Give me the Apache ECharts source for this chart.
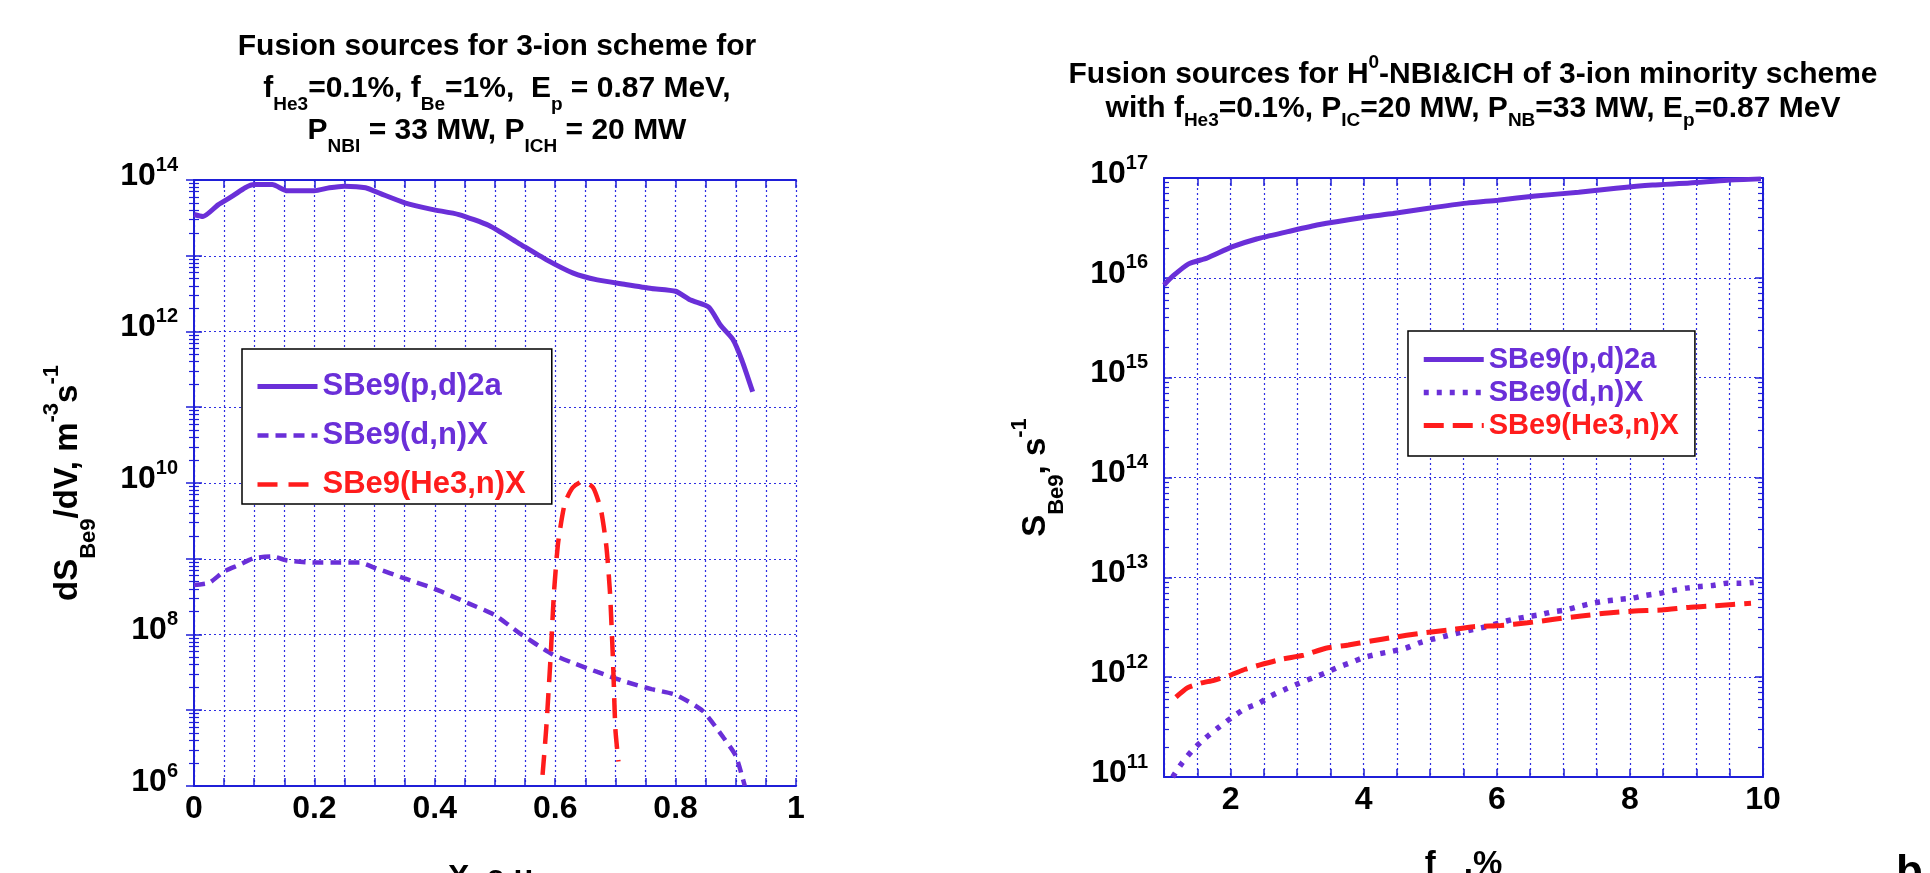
<!DOCTYPE html>
<html>
<head>
<meta charset="utf-8">
<title>Fusion sources</title>
<script src="https://cdn.jsdelivr.net/npm/echarts@6/dist/echarts.min.js"></script>
<style>
html, body { margin: 0; padding: 0; background: #fff; }
#main { width: 1930px; height: 873px; }
</style>
</head>
<body>
<div id="main"></div>
<script>
//////////////////////////// left panel: dS/dV vs X, a.u.
var xPd = [0, 0.015, 0.04, 0.065, 0.085, 0.1, 0.13, 0.155, 0.2, 0.225, 0.25, 0.285, 0.31, 0.35, 0.395,
	0.44, 0.49, 0.54, 0.585, 0.63, 0.67, 0.715, 0.76, 0.8, 0.825, 0.855, 0.875, 0.895, 0.91, 0.928];
var yPd = [3.5e13, 3.3e13, 4.7e13, 6.2e13, 7.9e13, 8.7e13, 8.7e13, 7.2e13, 7.2e13, 7.9e13, 8.3e13, 7.9e13,
	6.6e13, 5.0e13, 4.1e13, 3.5e13, 2.5e13, 1.45e13, 8.9e12, 5.9e12, 4.8e12, 4.2e12, 3.7e12, 3.4e12,
	2.6e12, 2.1e12, 1.2e12, 7.9e11, 4.2e11, 1.6e11];

var xDn = [0, 0.025, 0.05, 0.075, 0.1, 0.13, 0.155, 0.2, 0.24, 0.275, 0.3, 0.35, 0.4, 0.455, 0.5,
	0.54, 0.595, 0.63, 0.67, 0.715, 0.76, 0.8, 0.845, 0.88, 0.9, 0.915];
var yDn = [4.5e8, 4.8e8, 6.8e8, 8.3e8, 1.02e9, 1.07e9, 9.5e8, 8.9e8, 8.9e8, 8.9e8, 7.6e8, 5.5e8, 4.0e8,
	2.6e8, 1.8e8, 1.05e8, 5.5e7, 4.2e7, 3.2e7, 2.4e7, 1.9e7, 1.6e7, 9.8e6, 4.3e6, 2.5e6, 1.0e6];

var xHe = [0.579, 0.585, 0.592, 0.598, 0.605, 0.616, 0.629, 0.646, 0.663, 0.676, 0.685, 0.691, 0.696, 0.70, 0.705];
var yHe = [1.4e6, 5.6e6, 4.5e7, 3.6e8, 1.66e9, 5.4e9, 8.7e9, 1.05e10, 8.7e9, 4.4e9, 1.45e9, 3.6e8, 4.5e7, 5.6e6, 2.1e6];

//////////////////////////// right panel: S vs f_Be, %
var fPd = [1.0, 1.14, 1.37, 1.65, 2.02, 2.39, 2.86, 3.32, 3.97, 4.44, 5.0, 5.55, 6.02, 6.58, 7.23, 7.79, 8.34, 8.9, 9.46, 9.97];
var sPd = [8.5e15, 1.05e16, 1.38e16, 1.58e16, 2.04e16, 2.45e16, 2.9e16, 3.4e16, 4.0e16, 4.4e16, 5.0e16,
	5.6e16, 6.0e16, 6.6e16, 7.2e16, 7.9e16, 8.5e16, 8.9e16, 9.5e16, 9.8e16];

var fDn = [1.13, 1.27, 1.43, 1.62, 1.81, 2.01, 2.21, 2.43, 2.61, 2.83, 3.03, 3.23, 3.42, 3.62, 3.82, 4.01,
	4.21, 4.43, 4.63, 4.83, 5.03, 5.22, 5.44, 5.64, 5.84, 6.04, 6.25, 6.43, 6.63, 6.83, 7.03, 7.23, 7.44,
	7.64, 7.84, 8.04, 8.24, 8.44, 8.65, 8.85, 9.05, 9.25, 9.45, 9.65, 9.86];
var sDn = [1.0e11, 1.38e11, 1.86e11, 2.45e11, 3.1e11, 3.9e11, 4.8e11, 5.5e11, 6.5e11, 7.6e11, 8.7e11, 9.8e11,
	1.1e12, 1.26e12, 1.41e12, 1.58e12, 1.7e12, 1.82e12, 1.95e12, 2.2e12, 2.4e12, 2.57e12, 2.8e12, 3.0e12,
	3.2e12, 3.5e12, 3.8e12, 4.0e12, 4.2e12, 4.5e12, 4.7e12, 5.1e12, 5.5e12, 5.8e12, 6.0e12, 6.2e12, 6.6e12,
	6.9e12, 7.4e12, 7.8e12, 8.1e12, 8.3e12, 8.7e12, 8.7e12, 8.9e12];

var fHe = [1.18, 1.35, 1.55, 1.75, 2.0, 2.22, 2.43, 2.76, 3.1, 3.43, 3.77, 4.11, 4.44, 4.85, 5.25, 5.65,
	6.06, 6.46, 6.86, 7.27, 7.67, 8.07, 8.48, 8.88, 9.29, 9.82];
var sHe = [6.3e11, 7.8e11, 8.7e11, 9.3e11, 1.05e12, 1.2e12, 1.32e12, 1.51e12, 1.66e12, 1.95e12, 2.1e12,
	2.3e12, 2.5e12, 2.75e12, 2.95e12, 3.2e12, 3.3e12, 3.5e12, 3.8e12, 4.1e12, 4.4e12, 4.6e12, 4.7e12,
	5.0e12, 5.2e12, 5.5e12];

var names = ['SBe9(p,d)2a', 'SBe9(d,n)X', 'SBe9(He3,n)X'];

var FONT = "'Liberation Sans', Arial, sans-serif";
var BLUE = '#1f1fd8';
var GRIDC = '#2e2ee2';
var PURPLE = '#6a2fd8';
var RED = '#ff1c1c';

function pairs(xs, ys) {
	var out = [];
	for (var i = 0; i < xs.length; i++) {
		out.push([xs[i], ys[i]]);
	}
	return out;
}

function bold(size, extra) {
	var s = { fontSize: size, fontWeight: 'bold', fontFamily: FONT, color: '#000' };
	for (var k in extra) s[k] = extra[k];
	return s;
}

// 10^n tick labels
var expRich = {
	a: bold(32, { lineHeight: 34 }),
	e: bold(20, { lineHeight: 20, padding: [0, 0, 22, 0] })
};
function expLabel(every) {
	return function(v) {
		var e = Math.round(Math.log(v) / Math.LN10);
		if (e % every !== 0) return '';
		return '{a|10}{e|' + e + '}';
	};
}

var gridLine = { show: true, lineStyle: { color: GRIDC, type: [2, 3], width: 1.2 } };
var boxLine = { show: true, lineStyle: { color: BLUE, width: 2 } };
var tickIn = { show: true, inside: true, length: 8, lineStyle: { color: BLUE, width: 1.5 } };
var minorIn = { show: true, splitNumber: 9, length: 5, lineStyle: { color: BLUE, width: 1.2 } };

function xAx(grid, pos, min, max, step, fmt, name, gap, rich) {
	var ax = {
		type: 'value', gridIndex: grid, position: pos, min: min, max: max, interval: step,
		axisLine: boxLine, axisTick: tickIn,
		splitLine: pos == 'bottom' ? gridLine : { show: false },
		axisLabel: { show: pos == 'bottom', formatter: fmt, margin: 6, fontSize: 32, fontWeight: 'bold',
			fontFamily: FONT, color: '#000', lineHeight: 34 }
	};
	if (name) {
		ax.name = name;
		ax.nameLocation = 'middle';
		ax.nameGap = gap;
		ax.nameTextStyle = { fontSize: 32, fontWeight: 'bold', fontFamily: FONT, color: '#000', rich: rich };
	}
	return ax;
}

function yAx(grid, pos, min, max, splits, every, name, gap, rich) {
	var ax = {
		type: 'log', logBase: 10, gridIndex: grid, position: pos, min: min, max: max, splitNumber: splits,
		axisLine: boxLine, axisTick: tickIn, minorTick: minorIn,
		splitLine: pos == 'left' ? gridLine : { show: false },
		axisLabel: { show: pos == 'left', formatter: expLabel(every), margin: 16, padding: [0, 0, 8, 0], rich: expRich }
	};
	if (name) {
		ax.name = name;
		ax.nameLocation = 'middle';
		ax.nameGap = gap;
		ax.nameTextStyle = { rich: rich };
	}
	return ax;
}

var nameRich = {
	n: bold(33, { lineHeight: 36 }),
	s: bold(22, { lineHeight: 22, padding: [42, 0, 0, 0] }),
	u: bold(22, { lineHeight: 22, padding: [0, 0, 32, 0] })
};

var fmtLeftX = function(v) {
	var k = Math.round(v * 100);
	return k % 20 === 0 ? String(Math.round(v * 10) / 10) : '';
};
var fmtRightX = function(v) {
	var r = Math.round(v);
	return (Math.abs(v - r) < 1e-6 && r % 2 === 0) ? String(r) : '';
};

function lineSeries(name, xi, yi, data, color, type, width) {
	return {
		name: name, type: 'line', xAxisIndex: xi, yAxisIndex: yi, data: data,
		symbol: 'none', smooth: 0.2, animation: false,
		lineStyle: { color: color, type: type, width: width, cap: 'butt' },
		itemStyle: { color: color }
	};
}

function legendItems(types, widths) {
	var cols = [PURPLE, PURPLE, RED];
	var out = [];
	for (var i = 0; i < names.length; i++) {
		out.push({ name: names[i], textStyle: { color: cols[i] },
			itemStyle: { opacity: 0 },
			lineStyle: { color: cols[i], type: types[i], width: widths[i] } });
	}
	return out;
}

var titleRich1 = {
	t: bold(30, { lineHeight: 42 }),
	s: bold(19, { lineHeight: 19, padding: [32, 0, 0, 0] })
};
var titleRich2 = {
	t: bold(30, { lineHeight: 34 }),
	s: bold(19, { lineHeight: 19, padding: [24, 0, 0, 0] }),
	u: bold(19, { lineHeight: 19, padding: [0, 0, 24, 0] })
};

var option = {
	backgroundColor: '#fff',
	animation: false,
	title: [{
		left: 497, top: 26, padding: 0, textAlign: 'center',
		text: '{t|Fusion sources for 3-ion scheme for}\n' +
			'{t|f}{s|He3}{t|=0.1%, f}{s|Be}{t|=1%,  E}{s|p}{t| = 0.87 MeV,}\n' +
			'{t|P}{s|NBI}{t| = 33 MW, P}{s|ICH}{t| = 20 MW}',
		textStyle: { rich: titleRich1 }
	}, {
		left: 1473, top: 58, padding: 0, textAlign: 'center',
		text: '{t|Fusion sources for H}{u|0}{t|-NBI&ICH of 3-ion minority scheme}\n' +
			'{t|with f}{s|He3}{t|=0.1%, P}{s|IC}{t|=20 MW, P}{s|NB}{t|=33 MW, E}{s|p}{t|=0.87 MeV}',
		textStyle: { rich: titleRich2 }
	}],
	grid: [
		{ left: 194, top: 180, width: 602, height: 606, outerBoundsMode: 'none', containLabel: false },
		{ left: 1164, top: 178, width: 599, height: 599, outerBoundsMode: 'none', containLabel: false }
	],
	xAxis: [
		xAx(0, 'bottom', 0, 1, 0.05, fmtLeftX, 'X, a.u.', 76),
		xAx(0, 'top', 0, 1, 0.05, fmtLeftX),
		xAx(1, 'bottom', 1, 10, 0.5, fmtRightX, '{n|f}{s|Be}{n|,%}', 70, nameRich),
		xAx(1, 'top', 1, 10, 0.5, fmtRightX)
	],
	yAxis: [
		yAx(0, 'left', 1e6, 1e14, 8, 2, '{n|dS}{s|Be9}{n|/dV, m}{u|-3}{n|s}{u|-1}', 108, nameRich),
		yAx(0, 'right', 1e6, 1e14, 8, 2),
		yAx(1, 'left', 1e11, 1e17, 6, 1, '{n|S}{s|Be9}{n|, s}{u|-1}', 110, nameRich),
		yAx(1, 'right', 1e11, 1e17, 6, 1)
	],
	legend: [{
		orient: 'vertical', left: 242, top: 349, selectedMode: false,
		backgroundColor: '#fff', borderColor: '#000', borderWidth: 1.5,
		padding: [22, 26, 4, 13], itemGap: 18, itemWidth: 60, itemHeight: 14,
		textStyle: { fontSize: 31, fontWeight: 'bold', fontFamily: FONT },
		data: legendItems(['solid', [11, 7], [20, 11]], [5, 4.5, 4.5])
	}, {
		orient: 'vertical', left: 1408, top: 331, selectedMode: false,
		backgroundColor: '#fff', borderColor: '#000', borderWidth: 1.5,
		padding: [14, 16, 16, 13], itemGap: 4, itemWidth: 60, itemHeight: 14,
		textStyle: { fontSize: 29, fontWeight: 'bold', fontFamily: FONT },
		data: legendItems(['solid', [5, 8], [20, 9]], [5, 5.5, 5])
	}],
	graphic: [{
		type: 'text', left: 1896, top: 852,
		style: { text: 'b', fontSize: 44, fontWeight: 'bold', fontFamily: FONT, fill: '#000' }
	}],
	series: [
		lineSeries(names[0], 0, 0, pairs(xPd, yPd), PURPLE, 'solid', 5),
		lineSeries(names[1], 0, 0, pairs(xDn, yDn), PURPLE, [11, 7], 4.5),
		lineSeries(names[2], 0, 0, pairs(xHe, yHe), RED, [20, 11], 4.5),
		lineSeries(names[0], 2, 2, pairs(fPd, sPd), PURPLE, 'solid', 5),
		lineSeries(names[1], 2, 2, pairs(fDn, sDn), PURPLE, [5, 8], 5.5),
		lineSeries(names[2], 2, 2, pairs(fHe, sHe), RED, [20, 9], 5)
	]
};

var myChart = echarts.init(document.getElementById('main'), null, { renderer: 'canvas' });
myChart.setOption(option);
</script>
</body>
</html>
